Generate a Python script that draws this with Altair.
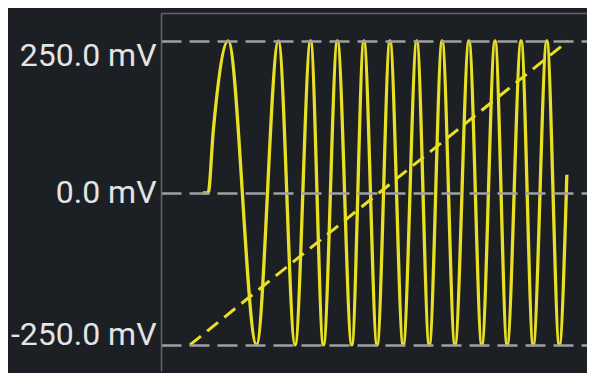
import altair as alt
import pandas as pd

# Signal (time in ms, voltage in mV): start, rise, extrema, end
sig_t = [0.34, 0.48, 0.62, 1.01, 1.76, 2.34, 2.78, 3.19, 3.53, 3.90, 4.28, 4.60, 4.95,
         5.29, 5.64, 6.00, 6.33, 6.67, 7.01, 7.38, 7.72, 8.07, 8.39, 8.76, 9.08, 9.44,
         9.77, 9.97]
sig_mv = [0, 0, 105] + [250, -250] * 12 + [30]

# Dashed ramp
ramp_t = [0, 10]
ramp_mv = [-250, 250]

tick_vals = [-250, 0, 250]

sig = pd.DataFrame({"t": sig_t, "mV": sig_mv})
ramp = pd.DataFrame({"t": ramp_t, "mV": ramp_mv})

xs = alt.Scale(domain=[-0.767, 10.503], nice=False, zero=False)
ys = alt.Scale(domain=[-293, 296], nice=False, zero=False)

border = "#62666a"

yaxis = alt.Axis(
    values=tick_vals,
    labelExpr="(datum.value < 0 ? '-' : '') + format(abs(datum.value), '.1f') + ' mV'",
    title=None,
    ticks=False,
    domain=True,
    domainColor=border,
    domainWidth=1.5,
    grid=True,
    gridDash=[20, 8],
    gridColor="#a0a0a0",
    gridWidth=2.5,
    labelFont="Roboto",
    labelFontSize=32,
    labelColor="#e4e4e4",
    labelPadding=5,
    labelBaseline={
        "condition": [
            {"test": "datum.value > 0", "value": "top"},
            {"test": "datum.value < 0", "value": "alphabetic"},
        ],
        "value": "middle",
    },
    zindex=1,
)

xaxis = alt.Axis(
    orient="top",
    labels=False,
    ticks=False,
    grid=False,
    title=None,
    domain=True,
    domainColor=border,
    domainWidth=1.5,
)

yellow = "#e9e024"

signal = alt.Chart(sig).mark_line(
    color=yellow, strokeWidth=3.3, interpolate="monotone", clip=True
).encode(
    x=alt.X("t:Q", scale=xs, axis=xaxis),
    y=alt.Y("mV:Q", scale=ys, axis=yaxis),
)

ramp_line = alt.Chart(ramp).mark_line(
    color=yellow, strokeWidth=3, strokeDash=[14, 8], clip=True
).encode(
    x=alt.X("t:Q", scale=xs, axis=xaxis),
    y=alt.Y("mV:Q", scale=ys, axis=yaxis),
)

chart = alt.layer(signal, ramp_line).properties(
    width=426,
    height=358,
    padding={"left": 153, "top": 5, "right": 0, "bottom": 2},
    autosize=alt.AutoSizeParams(type="none"),
).configure(
    background="#1c2024",
).configure_view(
    strokeWidth=0,
)

chart.save("out.html", embed_options={"renderer": "svg", "actions": False})
